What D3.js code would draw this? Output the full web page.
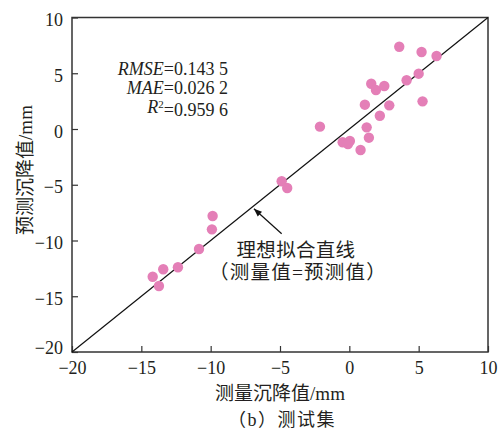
<!DOCTYPE html>
<html>
<head>
<meta charset="utf-8">
<script src="https://cdn.jsdelivr.net/npm/d3@7"></script>
<style>
  body { margin: 0; background: #fff; }
  text { font-family: "Liberation Serif", "Noto Sans CJK SC", serif; fill: #231f20; }
</style>
</head>
<body>
<div id="chart"></div>
<script>
// Measured vs predicted settlement (test set)
const measured  = [3.6, 5.21, 6.29, 1.58, 1.92, 2.52, 4.13, 5.0, 1.12, 2.88, 5.28, 2.2, 1.25, 1.41,
                   -0.48, 0.04, -0.1, 0.81, -2.12, -4.88, -4.48, -9.86, -9.91, -10.84, -12.36, -13.42, -14.18, -13.73];
const predicted = [7.38, 6.91, 6.55, 4.06, 3.5, 3.86, 4.37, 4.96, 2.18, 2.12, 2.48, 1.19, 0.15, -0.78,
                   -1.19, -1.08, -1.35, -1.88, 0.21, -4.69, -5.29, -7.8, -9.0, -10.76, -12.4, -12.58, -13.25, -14.08];
const xTicks = [-20, -15, -10, -5, 0, 5, 10];
const yTicks = [-20, -15, -10, -5, 0, 5, 10];
const stats = [
    {name: "RMSE", value: "=0.143 5"},
    {name: "MAE", value: "=0.026 2"},
    {name: "R", sup: "2", value: "=0.959 6"}
];

const margin = {top: 17.5, right: 10, bottom: 79, left: 72},
      width = 498 - margin.left - margin.right,
      height = 431 - margin.top - margin.bottom;

const svg = d3.select("#chart")
    .append("svg")
    .attr("width", 498)
    .attr("height", 431)
    .append("g")
    .attr("transform", `translate(${margin.left},${margin.top})`);

const x = d3.scaleLinear().domain([-20, 10]).range([0, width]);
const y = d3.scaleLinear().domain([-20, 10]).range([height, 0]);

// Axes with inward ticks
const xAxis = svg.append("g")
    .attr("transform", `translate(0,${height})`)
    .call(d3.axisBottom(x).tickValues(xTicks).tickSize(-6).tickPadding(16).tickFormat(d3.format("d")));
const yAxis = svg.append("g")
    .call(d3.axisLeft(y).tickValues(yTicks).tickSize(-6).tickPadding(9).tickFormat(d3.format("d")));

[xAxis, yAxis].forEach(g => {
    g.select(".domain").remove();
    g.selectAll("line").attr("stroke", "#333").attr("stroke-width", 1.2);
    g.selectAll("text").style("font-size", "18px").attr("fill", "#231f20");
});
xAxis.selectAll("text").attr("dy", "0.32em").attr("y", 16);
yAxis.selectAll("text").attr("dy", d => d === -20 ? "0.1em" : "0.45em");

// Frame
svg.append("rect")
    .attr("x", 0).attr("y", 0)
    .attr("width", width).attr("height", height)
    .attr("fill", "none")
    .attr("stroke", "#333")
    .attr("stroke-width", 1.5);

// Ideal fit line y = x
svg.append("line")
    .attr("x1", x(-20)).attr("y1", y(-20))
    .attr("x2", x(10)).attr("y2", y(10))
    .attr("stroke", "#111")
    .attr("stroke-width", 1.2);

// Points
svg.selectAll(".dot")
    .data(measured.map((m, i) => ({m: m, p: predicted[i]})))
    .enter()
    .append("circle")
    .attr("class", "dot")
    .attr("cx", d => x(d.m))
    .attr("cy", d => y(d.p))
    .attr("r", 5.2)
    .attr("fill", "#e47fb7");

// Stats
const statText = svg.append("g").attr("text-anchor", "end");
stats.forEach((s, i) => {
    const t = statText.append("text")
        .attr("x", x(-8.75))
        .attr("y", 57 + i * 19)
        .style("font-size", "18px");
    t.append("tspan").style("font-style", "italic").text(s.name);
    if (s.sup) {
        t.append("tspan").attr("dy", "-0.45em").style("font-size", "11px").text(s.sup);
        t.append("tspan").attr("dy", "0.45em").text(s.value);
    } else {
        t.append("tspan").text(s.value);
    }
});

// Annotation arrow
svg.append("defs").append("marker")
    .attr("id", "arrow")
    .attr("viewBox", "0 0 10 10")
    .attr("refX", 10).attr("refY", 5)
    .attr("markerWidth", 10).attr("markerHeight", 8)
    .attr("markerUnits", "userSpaceOnUse")
    .attr("orient", "auto")
    .append("path")
    .attr("d", "M0,1 L10,5 L0,9 Z")
    .attr("fill", "#111");

svg.append("line")
    .attr("x1", x(-4.88)).attr("y1", y(-9.4))
    .attr("x2", x(-6.88)).attr("y2", y(-7.15))
    .attr("stroke", "#111")
    .attr("stroke-width", 1.2)
    .attr("marker-end", "url(#arrow)");

svg.append("text")
    .attr("x", x(-3.85)).attr("y", y(-10.85))
    .attr("dy", "0.35em")
    .attr("text-anchor", "middle")
    .style("font-size", "19.5px")
    .style("letter-spacing", "0.3px")
    .text("理想拟合直线");

svg.append("text")
    .attr("x", x(-3.7)).attr("y", y(-12.8))
    .attr("dy", "0.35em")
    .attr("text-anchor", "middle")
    .style("font-size", "19.5px")
    .style("letter-spacing", "1.2px")
    .text("（测量值=预测值）");

// Axis titles
svg.append("text")
    .attr("x", width / 2)
    .attr("y", height + 41)
    .attr("dy", "0.35em")
    .attr("text-anchor", "middle")
    .style("font-size", "19px")
    .text("测量沉降值/mm");

svg.append("text")
    .attr("transform", "rotate(-90)")
    .attr("x", -(170 - margin.top))
    .attr("y", -47)
    .attr("dy", "0.35em")
    .attr("text-anchor", "middle")
    .style("font-size", "19px")
    .text("预测沉降值/mm");

// Caption
svg.append("text")
    .attr("x", width / 2 + 2)
    .attr("y", height + 68)
    .attr("dy", "0.35em")
    .attr("text-anchor", "middle")
    .style("font-size", "18px")
    .style("letter-spacing", "1.5px")
    .text("（b）测试集");
</script>
</body>
</html>
